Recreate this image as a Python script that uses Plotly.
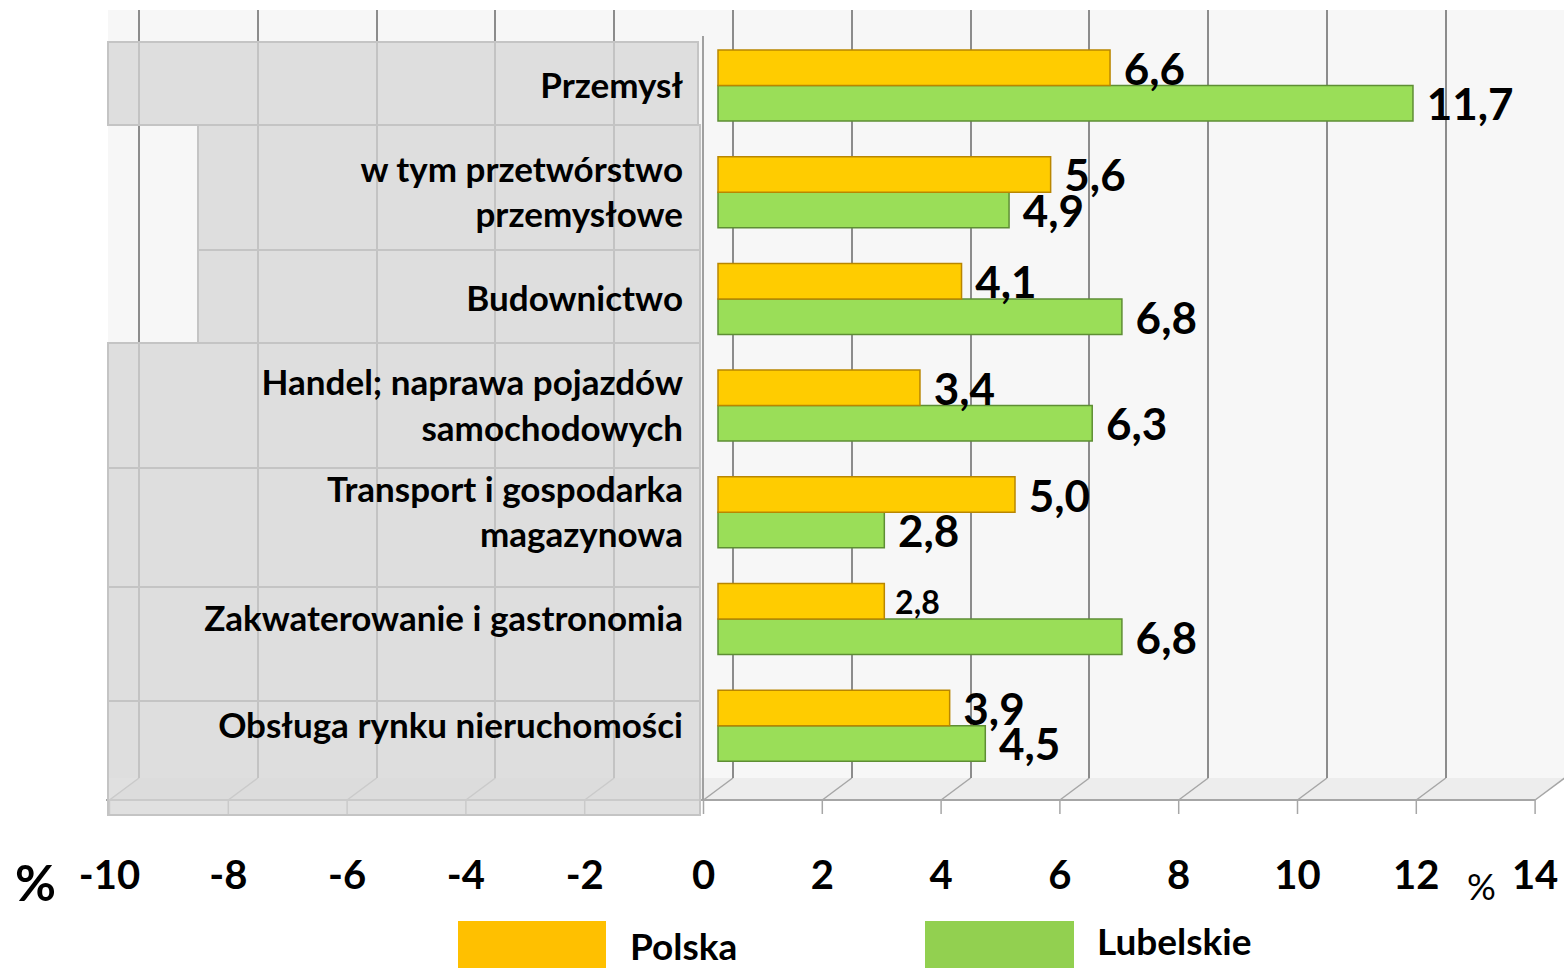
import plotly.graph_objects as go

# ---------------- data ----------------
categories = [
    "Przemysł",
    "w tym przetwórstwo<br>przemysłowe",
    "Budownictwo",
    "Handel; naprawa pojazdów<br>samochodowych",
    "Transport i gospodarka<br>magazynowa",
    "Zakwaterowanie i gastronomia",
    "Obsługa rynku nieruchomości",
]
polska = [6.6, 5.6, 4.1, 3.4, 5.0, 2.8, 3.9]
lubelskie = [11.7, 4.9, 6.8, 6.3, 2.8, 6.8, 4.5]
series_names = ["Polska", "Lubelskie"]
tick_values = [-10, -8, -6, -4, -2, 0, 2, 4, 6, 8, 10, 12, 14]
tick_labels = ["-10", "-8", "-6", "-4", "-2", "0", "2", "4", "6", "8", "10", "12", "14"]
grid_values = [-10, -8, -6, -4, -2, 0, 2, 4, 6, 8, 10, 12]

# ---------------- geometry / style ----------------
W, H = 1564, 968
U = 59.4                      # pixels per unit
ZERO_FRONT, ZERO_MID, ZERO_BACK = 703.5, 718.0, 733.0
PLOT_TOP, PLOT_BOTTOM = 10, 778
FLOOR_FRONT = 800
CAT_TOP, PITCH = 85.5, 106.7            # centre of the first (top) category
CAT_BOTTOM = CAT_TOP + PITCH * (len(categories) - 1)

FONT = "Lato"
C_POL, C_POL_LINE = "#FFCC00", "#B98600"
C_LUB, C_LUB_LINE = "#9ADE58", "#5E8E34"
NBSP = "\u00a0"


def xrange_for(zero):
    return [-zero / U, (W - zero) / U]


def px_x(p):
    return p / W


def px_y(p):
    return 1 - p / H


def front(v):
    return ZERO_FRONT + U * v


def back(v):
    return ZERO_BACK + U * v


def data_x(p):          # pixel -> value on the bar axis
    return (p - ZERO_MID) / U


def data_y(p):          # pixel -> category index (index 0 = bottom category)
    return (CAT_BOTTOM - p) / PITCH


fig = go.Figure()

# Lubelskie first (lower bar of each pair), Polska second so its labels sit on top
fig.add_trace(go.Bar(
    name=series_names[1], y=categories, x=lubelskie, orientation="h",
    marker=dict(color=C_LUB, line=dict(color=C_LUB_LINE, width=1.5)),
    texttemplate=NBSP + "%{x:.1f}", textposition="outside",
    textfont=dict(family=FONT, weight="bold", color="black", size=44),
    cliponaxis=False, constraintext="none", showlegend=False,
))
fig.add_trace(go.Bar(
    name=series_names[0], y=categories, x=polska, orientation="h",
    marker=dict(color=C_POL, line=dict(color=C_POL_LINE, width=1.5)),
    texttemplate=NBSP + "%{x:.1f}", textposition="outside",
    textfont=dict(family=FONT, weight="bold", color="black",
                  size=[44, 44, 44, 44, 44, 32, 44]),
    cliponaxis=False, constraintext="none", showlegend=False,
))
# helper (empty) traces so the overlaying axes get drawn
fig.add_trace(go.Scatter(x=[], y=[], xaxis="x2", yaxis="y", showlegend=False, hoverinfo="skip"))
fig.add_trace(go.Scatter(x=[], y=[], xaxis="x3", yaxis="y", showlegend=False, hoverinfo="skip"))

shapes = []
# back wall
shapes.append(dict(type="rect", xref="paper", yref="paper", layer="below",
                   x0=px_x(108), x1=1, y0=px_y(PLOT_BOTTOM), y1=px_y(PLOT_TOP),
                   fillcolor="#F7F7F7", line=dict(width=0)))
# floor
shapes.append(dict(type="path", xref="paper", yref="paper", layer="below",
                   path=(f"M {px_x(108)},{px_y(FLOOR_FRONT)} L {px_x(front(14))},{px_y(FLOOR_FRONT)} "
                         f"L {px_x(back(14))},{px_y(PLOT_BOTTOM)} L {px_x(back(-10))},{px_y(PLOT_BOTTOM)} Z"),
                   fillcolor="#EDEDED", line=dict(width=0)))
for v in tick_values:
    shapes.append(dict(type="line", xref="paper", yref="paper", layer="below",
                       x0=px_x(front(v)), y0=px_y(FLOOR_FRONT), x1=px_x(back(v)), y1=px_y(PLOT_BOTTOM),
                       line=dict(color="#A6A6A6", width=1.5)))
    shapes.append(dict(type="line", xref="paper", yref="paper", layer="below",
                       x0=px_x(front(v)), y0=px_y(FLOOR_FRONT), x1=px_x(front(v)), y1=px_y(814),
                       line=dict(color="#A6A6A6", width=1.5)))
shapes.append(dict(type="line", xref="paper", yref="paper", layer="below",
                   x0=px_x(106), y0=px_y(FLOOR_FRONT), x1=px_x(front(14)), y1=px_y(FLOOR_FRONT),
                   line=dict(color="#A6A6A6", width=2)))
# bottom part of the last label box (below the back wall), over the floor
shapes.append(dict(type="rect", xref="paper", yref="paper", layer="below",
                   x0=px_x(108), x1=px_x(700), y0=px_y(815), y1=px_y(PLOT_BOTTOM),
                   fillcolor="rgba(214,214,214,0.75)", line=dict(width=0)))
shapes.append(dict(type="path", xref="paper", yref="paper", layer="below",
                   path=(f"M {px_x(108)},{px_y(PLOT_BOTTOM)} L {px_x(108)},{px_y(815)} "
                         f"L {px_x(700)},{px_y(815)} L {px_x(700)},{px_y(PLOT_BOTTOM)}"),
                   line=dict(color="#C4C4C4", width=2)))

# category label boxes (above the gridlines, below the bars / labels)
boxes = [(108, 42, 698, 125), (198, 125, 700, 250), (198, 250, 700, 343),
         (108, 343, 700, 468), (108, 468, 700, 587), (108, 587, 700, 701),
         (108, 701, 700, 790)]
for x0, y0, x1, y1 in boxes:
    shapes.append(dict(type="rect", xref="x", yref="y", layer="between",
                       x0=data_x(x0), x1=data_x(x1), y0=data_y(y1), y1=data_y(y0),
                       fillcolor="rgba(214,214,214,0.75)",
                       line=dict(color="#C4C4C4", width=2)))
# vertical axis line
shapes.append(dict(type="line", xref="paper", yref="paper", layer="above",
                   x0=px_x(703), x1=px_x(703), y0=px_y(36), y1=px_y(FLOOR_FRONT),
                   line=dict(color="#A0A0A0", width=2)))
# legend swatches
shapes.append(dict(type="rect", xref="paper", yref="paper", layer="above",
                   x0=px_x(458), x1=px_x(606), y0=px_y(968), y1=px_y(921),
                   fillcolor="#FFC000", line=dict(width=0)))
shapes.append(dict(type="rect", xref="paper", yref="paper", layer="above",
                   x0=px_x(925), x1=px_x(1074), y0=px_y(968), y1=px_y(921),
                   fillcolor="#92D050", line=dict(width=0)))

annotations = [
    dict(text=series_names[0], x=px_x(628), y=px_y(945), xref="paper", yref="paper",
         xanchor="left", yanchor="middle", showarrow=False,
         font=dict(family=FONT, weight="bold", size=37, color="black")),
    dict(text=series_names[1], x=px_x(1095), y=px_y(940), xref="paper", yref="paper",
         xanchor="left", yanchor="middle", showarrow=False,
         font=dict(family=FONT, weight="bold", size=37, color="black")),
    dict(text="%", x=px_x(35), y=px_y(882), xref="paper", yref="paper",
         xanchor="center", yanchor="middle", showarrow=False,
         font=dict(family=FONT, weight="bold", size=50, color="black")),
    dict(text="%", x=px_x(1481), y=px_y(886), xref="paper", yref="paper",
         xanchor="center", yanchor="middle", showarrow=False,
         font=dict(family=FONT, size=36, color="black")),
]

fig.update_layout(
    width=W, height=H,
    margin=dict(l=0, r=0, t=0, b=0),
    paper_bgcolor="white", plot_bgcolor="rgba(0,0,0,0)",
    separators=", ",
    barmode="group", bargap=1 - 71 / PITCH, bargroupgap=0,
    font=dict(family=FONT, color="black"),
    xaxis=dict(domain=[0, 1], range=xrange_for(ZERO_MID), showgrid=False, zeroline=False,
               showticklabels=False, showline=False, ticks="", fixedrange=True),
    xaxis2=dict(overlaying="x", anchor="free", position=px_y(848), side="bottom",
                range=xrange_for(ZERO_FRONT), tickmode="array", tickvals=tick_values,
                ticktext=tick_labels, showgrid=False, zeroline=False, showline=False, ticks="",
                tickfont=dict(family=FONT, weight="bold", size=40, color="black")),
    xaxis3=dict(overlaying="x", anchor="y", range=xrange_for(ZERO_BACK), tickmode="array",
                tickvals=grid_values, showticklabels=False, showgrid=True,
                gridcolor="#8C8C8C", gridwidth=1.5, zeroline=False, showline=False, ticks=""),
    yaxis=dict(domain=[px_y(PLOT_BOTTOM), px_y(PLOT_TOP)],
               categoryorder="array", categoryarray=categories[::-1],
               range=[data_y(PLOT_BOTTOM), data_y(PLOT_TOP)],
               anchor="free", position=px_x(703), side="left", showgrid=False, zeroline=False,
               showline=False, ticks="", ticklabelstandoff=20,
               tickfont=dict(family=FONT, weight="bold", size=35, color="black")),
    shapes=shapes,
    annotations=annotations,
)

fig.write_html("out.html", config={"displayModeBar": False},
               post_script="document.body.style.margin='0';document.body.style.overflow='hidden';")
